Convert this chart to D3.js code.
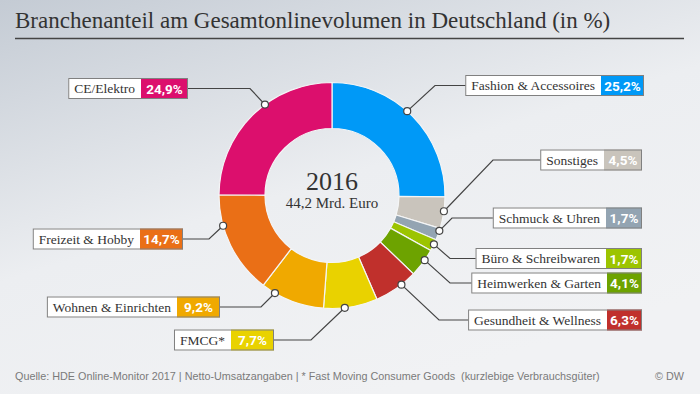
<!DOCTYPE html>
<html>
<head>
<meta charset="utf-8">
<script src="https://cdn.jsdelivr.net/npm/d3@7"></script>
<style>
  html, body { margin: 0; padding: 0; }
  svg { display: block; }
</style>
</head>
<body>
<svg id="chart"></svg>
<script>
var width = 700;
var height = 394;

// data, clockwise from 12 o'clock
var categories = ["Fashion & Accessoires", "Sonstiges", "Schmuck & Uhren", "Büro & Schreibwaren",
  "Heimwerken & Garten", "Gesundheit & Wellness", "FMCG*", "Wohnen & Einrichten",
  "Freizeit & Hobby", "CE/Elektro"];
var shares = [25.2, 4.5, 1.7, 1.7, 4.1, 6.3, 7.7, 9.2, 14.7, 24.9];
var sliceColors = ["#0099f7", "#c9c4bc", "#93a4b2", "#9cc400", "#6da300", "#c0302c",
  "#e9d200", "#f0a900", "#ea6f16", "#dc0f6d"];
var centerYear = "2016";
var centerTotal = "44,2 Mrd. Euro";
var title = "Branchenanteil am Gesamtonlinevolumen in Deutschland (in %)";
var source = "Quelle: HDE Online-Monitor 2017 | Netto-Umsatzangaben | * Fast Moving Consumer Goods  (kurzlebige Verbrauchsgüter)";

// label layout: box right edge, box top, width of value box, elbow x, where the dot sits inside the slice
var labelLayout = [
  {right: 644, top: 75, vw: 43, elbow: 435, at: 0.46},
  {right: 642, top: 149.5, vw: 38, elbow: 493, at: 0.45},
  {right: 642, top: 207.5, vw: 36, elbow: 452, at: 0.21},
  {right: 642, top: 248, vw: 36, elbow: 450, at: 0.42},
  {right: 642, top: 272.5, vw: 35, elbow: 450, at: 0.39},
  {right: 642, top: 309.5, vw: 35, elbow: 439, at: 0.36},
  {right: 274, top: 329.5, vw: 43, elbow: 311, at: 0.61},
  {right: 220, top: 296.5, vw: 43, elbow: 261, at: 0.785},
  {right: 183, top: 228.5, vw: 43, elbow: 209, at: 0.70},
  {right: 188, top: 78, vw: 47, elbow: 250, at: 0.594}
];

var cx = 332, cy = 195.5;
var rOuter = 113, rInner = 67;
var boxH = 21;

var fmt = d3.formatLocale({decimal: ",", thousands: ".", grouping: [3], currency: ["", "€"]}).format(".1f");

var svg = d3.select("#chart")
  .attr("width", width)
  .attr("height", height);

// background gradient
var defs = svg.append("defs");
var grad = defs.append("linearGradient").attr("id", "bg")
  .attr("x1", "0").attr("y1", "0").attr("x2", "0.55").attr("y2", "1");
grad.append("stop").attr("offset", "0").attr("stop-color", "#c4cbd4");
grad.append("stop").attr("offset", "0.55").attr("stop-color", "#eceef1");
grad.append("stop").attr("offset", "1").attr("stop-color", "#f1f2f4");
svg.append("rect").attr("width", width).attr("height", height).attr("fill", "url(#bg)");

// title + rule
svg.append("text")
  .attr("x", 15).attr("y", 28)
  .attr("font-family", "Liberation Serif, serif")
  .attr("font-size", 23)
  .attr("fill", "#333")
  .text(title);
svg.append("line")
  .attr("x1", 15).attr("x2", 684).attr("y1", 38.5).attr("y2", 38.5)
  .attr("stroke", "#444").attr("stroke-width", 1.5);

// donut
var pie = d3.pie().sort(null).value(function (d) { return d; });
var arcs = pie(shares);
var arc = d3.arc().innerRadius(rInner).outerRadius(rOuter);

var g = svg.append("g").attr("transform", "translate(" + cx + "," + cy + ")");
g.selectAll("path.slice")
  .data(arcs)
  .enter().append("path")
  .attr("class", "slice")
  .attr("d", arc)
  .attr("fill", function (d, i) { return sliceColors[i]; })
  .attr("stroke", "#f4f5f6")
  .attr("stroke-width", 1.2);

g.append("text")
  .attr("text-anchor", "middle").attr("y", -5.5)
  .attr("font-family", "Liberation Serif, serif").attr("font-size", 26)
  .attr("fill", "#333").text(centerYear);
g.append("text")
  .attr("text-anchor", "middle").attr("y", 12)
  .attr("font-family", "Liberation Serif, serif").attr("font-size", 15)
  .attr("fill", "#333").text(centerTotal);

// labels
var lbl = svg.append("g");
arcs.forEach(function (a, i) {
  var L = labelLayout[i];
  var grp = lbl.append("g");

  var name = grp.append("text")
    .attr("font-family", "Liberation Serif, serif")
    .attr("font-size", 13.5)
    .attr("fill", "#333")
    .text(categories[i]);
  var tw = name.node().getComputedTextLength();
  var labelW = tw + 12;
  var left = L.right - L.vw - labelW;
  var midY = L.top + boxH / 2;

  grp.insert("rect", "text")
    .attr("x", left).attr("y", L.top)
    .attr("width", labelW + L.vw).attr("height", boxH)
    .attr("fill", "#fff");
  grp.append("rect")
    .attr("x", L.right - L.vw).attr("y", L.top)
    .attr("width", L.vw).attr("height", boxH)
    .attr("fill", sliceColors[i]);
  grp.append("rect")
    .attr("x", left + 0.5).attr("y", L.top + 0.5)
    .attr("width", labelW + L.vw - 1).attr("height", boxH - 1)
    .attr("fill", "none").attr("stroke", "#808080").attr("stroke-width", 1);
  name.attr("x", left + 6).attr("y", midY + 4.8);
  grp.append("text")
    .attr("x", L.right - L.vw / 2).attr("y", midY + 5)
    .attr("text-anchor", "middle")
    .attr("font-family", "Roboto, sans-serif").attr("font-weight", "bold")
    .attr("font-size", 13.5).attr("fill", "#fff")
    .text(fmt(shares[i]) + "%");

  // leader line + dot
  var ang = a.startAngle + L.at * (a.endAngle - a.startAngle);
  var dx = cx + rOuter * Math.sin(ang);
  var dy = cy - rOuter * Math.cos(ang);
  var edgeX = (L.elbow > L.right) ? L.right : left;
  lbl.append("path")
    .attr("d", d3.line()([[dx, dy], [L.elbow, midY], [edgeX, midY]]))
    .attr("fill", "none").attr("stroke", "#444").attr("stroke-width", 1.2);
  lbl.append("circle")
    .attr("cx", dx).attr("cy", dy).attr("r", 3.5)
    .attr("fill", "#fff").attr("stroke", "#444").attr("stroke-width", 1.2);
});

// footer
svg.append("text")
  .attr("x", 15).attr("y", 380)
  .attr("font-family", "Liberation Sans, Arial, sans-serif")
  .attr("font-size", 10.8).attr("fill", "#7a7a7a")
  .style("white-space", "pre")
  .text(source);
svg.append("text")
  .attr("x", 684).attr("y", 380).attr("text-anchor", "end")
  .attr("font-family", "Liberation Sans, Arial, sans-serif")
  .attr("font-size", 10.8).attr("fill", "#7a7a7a")
  .text("© DW");
</script>
</body>
</html>
